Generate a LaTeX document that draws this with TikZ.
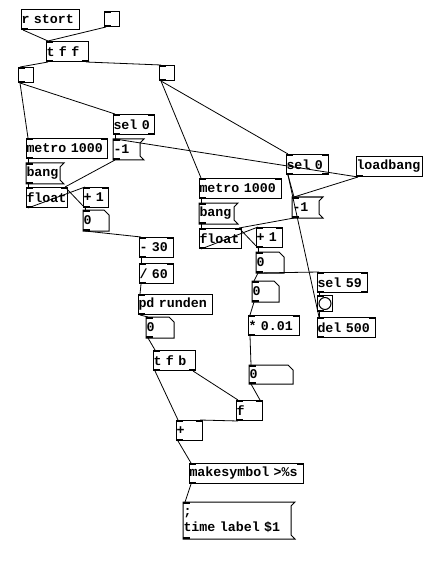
\documentclass[tikz,border=0pt]{standalone}
\usepackage{fontspec}
\setmonofont{Liberation Mono}
\newcommand{\pdfont}{\ttfamily\bfseries\fontsize{13.3}{16}\selectfont\spaceskip=0.6em\relax}

\begin{document}
\begin{tikzpicture}[x=1pt,y=-1pt,line width=1pt,
    obj/.style={draw, anchor=north west, inner xsep=0pt, inner ysep=0pt,
      text width=#1pt, minimum height=20pt, align=left, font=\pdfont},
    msg/.style={obj=#1, draw=none},
    num/.style={obj=#1, draw=none},
    tgl/.style={draw, anchor=north west, inner sep=0pt, minimum size=15pt},
    wire/.style={line width=0.8pt}]
    \fill[white] (0,0) rectangle (439,569);
    \useasboundingbox (0,0) rectangle (439,569);

    % top
    \node[obj=58] (rstort) at (21,9) {r stort};
    \node[tgl] (toga) at (104,11) {};
    \node[obj=42] (tff) at (46,41) {t f f};
    \node[tgl] (togb) at (18,67) {};
    \node[tgl] (togc) at (159,65) {};

    % left counter
    \node[obj=41] (sel0a) at (113,114) {sel 0};
    \node[obj=81] (metroa) at (26,138) {metro 1000};
    \node[msg=26] (resa) at (113,139) {-1};
    \node[msg=33] (banga) at (26,163) {bang};
    \node[obj=41] (floata) at (26,187) {float};
    \node[obj=25] (plusa) at (83,187) {+ 1};
    \node[num=25] (numa) at (83,210) {0};
    \node[obj=34] (minus30) at (139,237) {- 30};
    \node[obj=34] (div60) at (139,263) {/ 60};
    \node[obj=74] (runden) at (138,294) {pd runden};
    \node[num=27] (numb) at (146,317) {0};
    \node[obj=42] (tfb) at (153,350) {t f b};

    % right counter
    \node[obj=42] (sel0b) at (286,154) {sel 0};
    \node[obj=66] (loadbang) at (356,156) {loadbang};
    \node[obj=82] (metrob) at (199,178) {metro 1000};
    \node[msg=26] (resb) at (292,197) {-1};
    \node[msg=34] (bangb) at (199,203) {bang};
    \node[obj=42] (floatb) at (199,228) {float};
    \node[obj=26] (plusb) at (256,227) {+ 1};
    \node[num=27] (numc) at (256,252) {0};
    \node[obj=50] (sel59) at (317,272) {sel 59};
    \node[num=26] (numd) at (252,281) {0};
    \node[tgl, minimum height=16pt] (bng) at (317,295) {};
    \draw (bng.center) circle (6pt);
    \node[obj=51] (mul) at (248,315) {* 0.01};
    \node[obj=58] (del500) at (317,317) {del 500};
    \node[num=43, minimum height=18pt] (nume) at (249,365) {0};

    % output
    \node[obj=26] (fbox) at (236,400) {f};
    \node[obj=26] (add) at (176,420) {+};
    \node[obj=114] (mksym) at (189,463) {makesymbol >\%s};
    \node[msg=107, minimum height=36pt] (label) at (183,502) {;\\time label \$1};

    % box outlines
    \foreach \n in {resa,banga,resb,bangb,label}
        \draw (\n.north west) -- ([xshift=4pt]\n.north east) -- ([yshift=-4pt]\n.north east)
            -- ([yshift=4pt]\n.south east) -- ([xshift=4pt]\n.south east) -- (\n.south west) -- cycle;
    \foreach \n in {numa,numb,numc,numd,nume}
        \draw (\n.north west) -- ([xshift=-5pt]\n.north east) -- ([yshift=-5pt]\n.north east)
            -- (\n.south east) -- (\n.south west) -- cycle;

    % inlets and outlets
    \foreach \n in {toga,togb,togc,tff,sel0a,metroa,resa,banga,floata,plusa,numa,minus30,div60,
            runden,numb,tfb,sel0b,metrob,resb,bangb,floatb,plusb,numc,sel59,numd,bng,mul,del500,
            nume,fbox,add,mksym,label}
        \fill (\n.north west) rectangle ++(7pt,-2pt);
    \foreach \n in {sel0a,metroa,floata,plusa,minus30,div60,sel0b,metrob,floatb,plusb,sel59,
            mul,del500,fbox,add,mksym}
        \fill (\n.north east) rectangle ++(-7pt,-2pt);
    \foreach \n in {rstort,toga,togb,togc,tff,sel0a,metroa,resa,banga,floata,plusa,numa,minus30,
            div60,runden,numb,tfb,sel0b,loadbang,metrob,resb,bangb,floatb,plusb,numc,sel59,numd,
            bng,mul,del500,nume,fbox,add,mksym,label}
        \fill (\n.south west) rectangle ++(7pt,2pt);
    \foreach \n in {tff,sel0a,sel0b,sel59,tfb}
        \fill (\n.south east) rectangle ++(-7pt,2pt);

    % connections
    \foreach \a/\b in {rstort/tff,toga/tff,tff/togb,togb/metroa,togb/sel0a,togc/metrob,togc/sel0b,
            sel0a/resa,loadbang/resa,loadbang/resb,sel0b/resb,sel0b/del500,metroa/banga,
            banga/floata,floata/plusa,plusa/numa,numa/minus30,minus30/div60,div60/runden,
            runden/numb,numb/tfb,tfb/add,add/mksym,mksym/label,metrob/bangb,bangb/floatb,
            floatb/plusb,plusb/numc,numc/sel59,numc/numd,numd/mul,mul/nume,sel59/bng,bng/del500}
        \draw[wire] ([xshift=2pt]\a.south west) -- ([xshift=2pt]\b.north west);
    \foreach \a/\b in {resa/floata,plusa/floata,fbox/add,resb/floatb,plusb/floatb,nume/fbox}
        \draw[wire] ([xshift=2pt]\a.south west) -- ([xshift=-3pt]\b.north east);
    \foreach \a/\b in {tff/togc,tfb/fbox}
        \draw[wire] ([xshift=-3pt]\a.south east) -- ([xshift=2pt]\b.north west);
\end{tikzpicture}
\end{document}
